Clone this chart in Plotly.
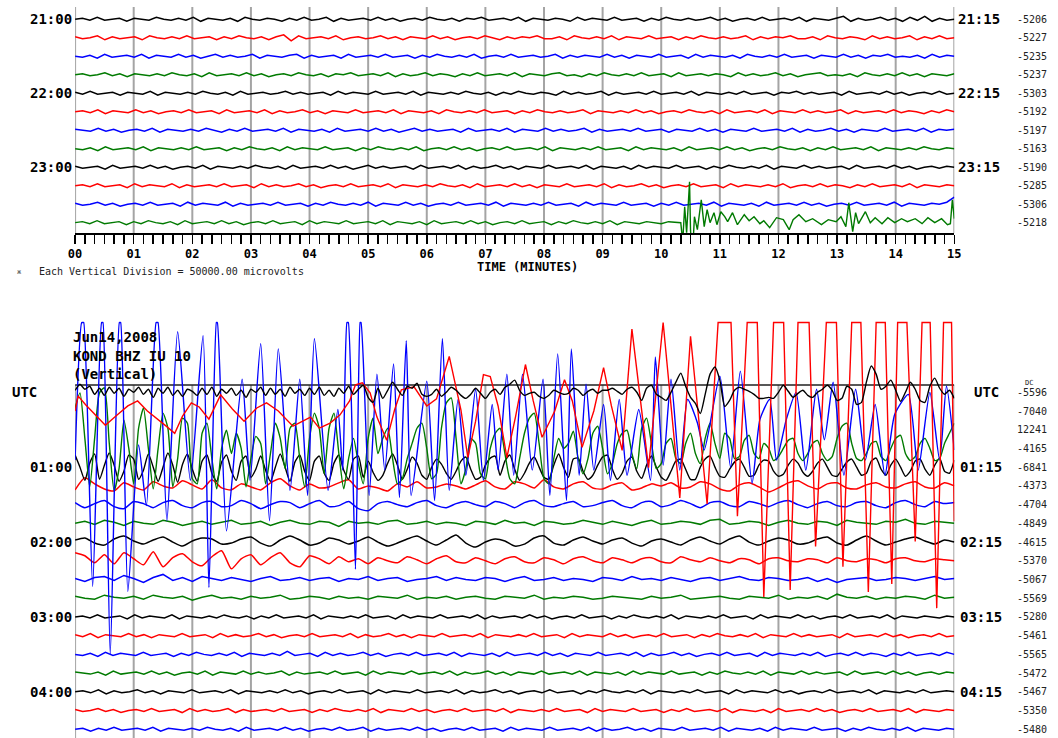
import numpy as np
import plotly.graph_objects as go

# ---------------- data ----------------
UNIT_UV = 2700.0        # one data count in microvolts
DIVISION_UV = 50000.0   # each vertical division (line spacing)
SPAN_S = 900            # each helicorder line = 15 minutes

MINUTE_LABELS = ["00", "01", "02", "03", "04", "05", "06", "07", "08", "09",
                 "10", "11", "12", "13", "14", "15"]
TOP_LEFT = {0: "21:00", 4: "22:00", 8: "23:00"}
TOP_RIGHT = {0: "21:15", 4: "22:15", 8: "23:15"}
TOP_DC = ["-5206", "-5227", "-5235", "-5237", "-5303", "-5192", "-5197", "-5163",
          "-5190", "-5285", "-5306", "-5218"]
BOT_LEFT = {0: "UTC", 4: "01:00", 8: "02:00", 12: "03:00", 16: "04:00"}
BOT_RIGHT = {0: "UTC", 4: "01:15", 8: "02:15", 12: "03:15", 16: "04:15"}
BOT_DC = ["-5596", "-7040", "12241", "-4165", "-6841", "-4373", "-4704", "-4849",
          "-4615", "-5370", "-5067", "-5569", "-5280", "-5461", "-5565", "-5472",
          "-5467", "-5350", "-5480"]
HEADER = ["Jun14,2008", "KOND BHZ IU 10", "(Vertical)"]

# top panel lines 21:00 .. 23:30 (uniformly sampled, counts)
T0 = [0,1,-1,2,-1,0,1,-2,1,0,-1,2,0,-1,1,-1,2,-2,1,0,-1,1,-2,2,0,-1,1,0,-2,1,-1,2,-1,0,2,-2,1,-1,0,1,-1,2,-1,1,-2,0,1,-1,2,0,-1,1,-2,1,0,2,-1,0,1,-1,2,-2,1,0,-1,1,0,-2,2,-1,1,0,-1,2,-1,0,1,-2,1,-1,2,0,-1,1,-1,0,2,-1,1,-2,0,1,-1,2,-1,0,1,-1,2,-2,1,0,-1,1,3,-2,1,-1,0,2,-1,1,-2,2,-1,3,-2,1,-1,0]
T1 = [1,-1,0,2,-2,1,-1,0,1,-2,2,0,-1,1,-1,2,-1,0,1,-2,1,-1,2,0,-1,1,-2,1,3,-3,2,-1,0,1,-1,2,-2,0,1,-1,0,2,-1,1,-2,1,0,-1,2,-1,1,-2,0,1,-1,2,0,-2,1,-1,1,0,2,-1,-1,1,-2,2,0,-1,1,-1,2,-2,1,0,-1,2,-1,0,1,-2,1,-1,2,0,-1,1,-1,0,2,-2,1,-1,1,0,2,-1,-1,1,-2,2,0,-1,1,0,-2,2,-1,1,-1,0,2,-2,1,-1,2,-1,0]
T2 = [0,-1,1,-2,2,-1,0,1,-1,2,-2,1,0,-1,2,-1,1,-2,0,2,-1,1,-1,0,2,-2,1,0,-1,1,2,-2,1,-1,0,1,-2,2,-1,0,1,-1,2,-1,0,1,-2,1,-1,2,0,-1,1,-1,2,-2,0,1,-1,2,-1,0,1,-1,0,2,-2,1,-1,1,0,-1,2,-1,1,-2,1,0,-1,2,-1,0,1,-2,2,-1,1,0,-1,1,-2,2,0,-1,1,-1,2,-1,0,1,-2,1,0,-1,2,-1,1,-2,1,0,2,-1,0,-1,1,-2,2,-1,1,0]
T3 = [0,1,-1,0,2,-1,1,-2,1,0,-1,1,-1,2,0,-1,1,-2,2,-1,0,1,-1,2,-1,1,-2,0,1,-1,2,0,-1,1,-2,1,0,2,-1,0,1,-1,2,-2,1,-1,0,2,-1,1,0,-2,1,-1,2,-1,0,1,-1,2,-2,1,0,-1,1,2,-1,0,-2,1,-1,2,0,-1,1,-1,2,-1,0,1,-2,2,-1,0,1,-1,1,0,-2,2,-1,1,-1,0,2,-1,1,-2,0,1,2,-1,0,-1,1,-2,2,0,-1,1,-1,2,-1,1,-2,1,0,-1,1]
T4 = [1,-1,2,-1,0,1,-2,1,0,-1,2,-2,1,0,-1,1,-1,2,0,-1,1,-2,2,-1,0,1,-1,0,2,-1,1,-1,0,1,-2,2,-1,1,0,-1,2,-1,0,1,-1,2,-2,1,0,-1,1,-1,2,0,-1,1,-2,1,-1,2,0,-1,1,0,-2,2,-1,1,-1,0,2,-2,1,-1,0,1,-1,2,-1,0,1,-1,2,-2,1,0,-1,1,-1,2,-1,0,1,-2,1,0,2,-1,1,-1,0,1,-2,2,-1,0,1,-1,2,-1,1,-2,0,1,-1,2,-1,0]
T5 = [0,1,-1,2,-2,1,0,-1,2,-1,1,-2,0,1,-1,2,-1,0,1,-2,2,-1,0,1,-1,2,-2,1,-1,0,2,-1,1,-2,1,0,-1,2,-1,0,1,-1,2,-2,1,0,-1,1,-2,2,0,-1,1,-1,2,-1,0,1,-2,1,-1,2,0,-1,1,-1,0,2,-2,1,0,-1,1,-1,2,-1,1,-2,0,1,-1,2,0,-1,1,-2,2,-1,0,1,-1,2,-2,1,0,-1,2,-1,1,-1,0,2,-2,1,-1,0,1,-1,2,-1,1,0,-2,1,-1,2,0]
T6 = [1,0,-1,2,-1,1,-2,0,1,-1,2,-2,1,0,-1,1,-1,2,0,-2,1,-1,2,-1,0,1,-1,2,-2,1,0,-1,1,-2,2,-1,0,1,-1,2,-1,1,-2,0,2,-1,1,-1,0,1,-2,2,-1,0,1,-1,2,-2,1,0,-1,2,-1,1,-1,0,2,-2,1,-1,0,1,-1,2,-1,0,1,-2,1,0,-1,2,-1,1,-2,1,0,-1,2,-1,0,1,-1,2,-2,1,-1,0,2,-1,1,-2,1,0,-1,2,-1,0,1,-1,2,-2,1,0,1]
T7 = [0,-1,1,-2,2,-1,0,1,-1,2,-2,1,0,-1,1,-1,2,-1,0,1,-2,1,-1,2,0,-1,1,-2,2,-1,1,0,-1,2,-1,0,1,-2,1,-1,2,0,-1,1,-1,2,-2,0,1,-1,2,-1,1,-2,0,1,-1,2,-1,0,1,-1,2,-2,1,0,-1,1,-1,2,-1,0,1,-2,2,-1,1,0,-1,1,-2,2,-1,0,1,-1,2,-1,1,-2,0,1,-1,2,0,-1,1,-2,1,-1,2,-1,0,1,-1,2,-2,1,0,-1,1,-1,2,0,-1,1,0]
T8 = [1,-1,0,1,-2,2,-1,0,1,-1,2,-1,1,-2,0,1,-1,2,-2,1,0,-1,1,-1,2,0,-1,1,-2,2,-1,0,1,-1,2,-1,1,-2,0,2,-1,1,-1,0,1,-2,2,-1,0,1,-1,2,-2,1,-1,0,2,-1,1,-2,1,0,-1,2,-1,0,1,-1,2,-2,1,0,-1,1,-2,2,-1,1,0,-1,2,-1,0,1,-2,1,-1,2,0,-1,1,-1,2,-2,1,0,-1,2,-1,1,-1,0,1,-2,2,-1,0,1,-1,2,-1,1,-2,0,1,-1,1,0]
T9 = [0,1,-1,2,-1,0,1,-2,2,-1,1,0,-1,2,-2,1,-1,0,1,-1,2,-1,0,1,-2,2,-1,1,-1,0,2,-1,1,-2,0,1,-1,2,-1,0,1,-1,2,-2,1,0,-1,1,-1,2,0,-1,1,-2,2,-1,0,1,-1,2,-1,1,-2,1,0,-1,2,-1,0,1,-1,2,-2,1,-1,0,2,-1,1,-2,0,1,-1,2,-1,0,1,-2,2,-1,1,0,-1,1,-1,2,-2,0,1,-1,2,-1,1,0,-2,1,-1,2,-1,0,1,-1,2,-2,1,0,-1,1,0]
T10 = [1,-1,0,2,-1,1,-2,0,1,-1,2,-1,0,1,-2,2,-1,1,0,-1,2,-2,1,-1,0,1,-1,2,-1,0,1,-2,1,-1,2,0,-1,1,-1,2,-2,1,0,-1,2,-1,1,-2,0,1,-1,2,-1,0,1,-1,2,-2,1,0,-1,1,-1,2,-1,0,1,-2,2,-1,1,0,-1,2,-1,0,1,-2,1,-1,2,-1,0,1,-1,2,-2,1,0,-1,1,-2,2,-1,0,1,-1,2,-1,1,-2,0,1,-1,2,-1,0,1,-1,2,-2,1,0,-1,1,0,2,7]
# 23:45 line: quiet part (0-615 s), then the earthquake (time s, counts)
T11_PRE = [0,1,-1,2,-1,0,1,-2,1,-1,2,0,-1,1,-2,2,-1,0,1,-1,2,-1,1,-2,0,1,-1,2,-1,0,1,-2,2,-1,1,0,-1,2,-1,0,1,-1,2,-2,1,0,-1,1,-2,2,-1,0,1,-1,2,-1,1,-2,0,1,-1,2,-1,0,1,-2,1,-1,2,0,-1,1,-1,2,-2,1,0,-1,1,0,-1,1,0]
EV_T = [620,622,624,626,629,630,632,634,637,641,644,647,650,654,657,661,665,668,673,678,
        685,690,695,701,705,711,718,725,731,735,741,748,755,764,771,779,784,789,792,796,
        799,802,809,814,819,826,832,839,846,852,860,867,873,880,887,893,896,898,900]
EV_V = [0,-19,16,-10,41,-8,-32,6,-7,23,-4,13,0,10,-2,11,6,1,10,-2,
        8,2,6,-1,2,-5,5,3,-7,3,8,1,4,-2,3,1,6,-4,20,-9,
        10,-1,11,0,5,-1,5,0,4,1,4,-1,5,0,4,-2,-1,23,4]

# bottom panel, 00:00 line (black), every 5 s
B0 = [2,8,3,6,-2,4,-3,5,-1,4,-4,3,0,
      5,-2,3,-5,4,-1,5,-3,2,-4,3,1,
      -3,4,-2,5,-4,3,-1,4,-3,2,-5,3,
      0,5,-3,4,-2,3,-4,5,-1,3,-3,4,
      -2,5,-3,2,-4,4,-1,6,-2,3,7,-5,
      -10,4,-6,2,10,3,-3,6,4,9,-2,-4,
      -2,3,-4,0,5,2,-3,-6,-2,4,-1,-6,
      0,3,-2,5,8,12,2,-3,-1,0,-4,-6,
      -3,2,0,-2,-1,4,2,-3,1,3,-1,2,
      2,4,1,-2,3,5,0,-8,4,7,-2,-5,
      -8,0,10,19,6,-5,-11,-21,-2,18,25,12,
      -14,-8,2,5,3,1,-2,-6,-6,-5,-6,0,
      7,1,-5,-1,2,-3,-5,0,3,7,2,-8,
      -6,6,3,-12,-10,10,26,18,3,6,12,2,
      -9,0,10,3,-8,-10,6,14,4,-2,2,-6]
# 00:15 line (red): turning points (time s, counts)
B1_T = [0,3,11,24,31,43,54,64,74,92,102,110,119,127,137,149,161,173,186,196,208,223,233,241,250,261,271,281,287,294,
        302,309,319,327,334,347,360,370,383,395,402,410,418,425,433,442,451,461,469,478,491,501,509,519,531,541,549,560,570,587,602,619,630,647,
        659,671,678,688,698,705,715,725,732,740,751,758,769,779,786,795,804,812,820,829,836,842,851,860,867,875,882,889,897,900]
B1_V = [0,15,6,-7,-14,-4,5,10,0,-14,-22,-5,8,4,-8,16,2,-10,3,8,0,-15,-10,-6,-17,-12,-4,10,26,28,
        18,-6,-29,1,21,24,5,12,54,1,-46,-10,36,34,5,-46,-5,46,10,-26,0,31,10,-36,0,43,5,-39,81,-56,88,-86,74,-92,
        100,100,-104,100,100,-184,100,100,-177,100,100,-134,100,100,-154,100,100,-179,100,100,-171,100,100,-129,100,100,-195,100,100,-109]
# 00:30 line (blue): turning points (time s, counts)
B2_T = [0,8,18,28,36,46,54,65,73,84,94,105,118,131,137,145,155,171,179,190,199,208,220,230,238,245,259,269,274,279,287,292,
        301,309,317,326,332,339,344,360,368,376,383,392,400,410,418,427,433,442,449,458,468,479,486,494,503,508,516,523,531,541,548,557,565,577,589,594,602,610,619,627,637,644,
        660,671,681,693,701,711,718,728,738,748,759,767,776,787,799,809,819,829,839,853,863,875,885,892,900]
B2_V = [-30,130,-155,130,-222,130,-160,-15,-75,125,-90,97,-50,93,-156,120,-100,50,-50,85,-90,80,-60,50,-65,90,-60,20,-40,130,-138,120,
        -65,55,-40,65,-67,88,-65,48,-70,90,-60,30,-45,40,-50,25,-40,55,-45,55,-40,50,-65,75,-70,80,-45,45,-40,25,-50,30,-45,20,-50,72,-35,50,-40,30,7,-20,
        53,-37,58,-53,10,30,-30,10,37,-40,40,-10,47,-45,40,-30,25,-45,15,35,-40,37,-30,43,-20]
# 00:45 line (green), every 5 s
B3 = [40,55,10,-38,10,55,60,5,-42,-20,28,0,-35,20,40,0,-40,0,35,20,-38,-10,30,25,-30,-35,15,25,-10,-40,
      0,18,-5,15,0,-38,-10,12,5,-35,-5,25,10,-20,20,25,-10,-38,10,35,20,-25,20,35,-5,-40,-10,10,-15,-35,
      10,30,-5,10,20,-10,-35,-30,-10,5,20,25,0,-30,-25,20,45,50,10,-35,-20,10,5,-25,-30,0,15,20,-5,-30,
      -35,-10,15,30,35,5,-30,-35,-10,10,0,5,17,-10,-25,-10,15,22,0,-25,-15,5,15,18,-5,-20,20,30,5,-20,
      -15,5,10,-10,-15,5,15,-5,-15,10,25,5,-10,15,10,-10,-8,8,13,-5,-10,5,0,-12,-8,0,8,10,-5,-12,
      -5,5,8,-5,-12,-8,10,22,25,5,-10,-12,-5,5,7,-8,-12,0,10,13,-5,-12,-8,5,10,0,-12,-10,5,15,25]
# 01:00 line (black), every 5 s
B4 = [12,0,-13,4,13,-12,2,14,2,-14,-4,12,8,-12,-3,13,0,-14,0,14,2,-15,3,13,-2,-14,6,12,-6,-14,
      5,12,-4,-13,6,11,-10,-2,11,-3,-14,0,13,0,-14,5,12,-4,-13,6,11,-6,-13,4,12,-3,-12,8,11,-10,
      6,-5,-13,-8,4,13,2,-12,-2,10,4,-8,-12,0,8,3,-6,-12,-4,6,10,-2,-12,-10,2,9,11,-8,6,12,
      -2,-13,-6,4,10,0,-10,-12,2,13,0,-10,8,9,-4,-12,-8,2,10,12,-2,-12,-6,6,10,-4,-11,2,11,0,
      -10,-13,-4,6,8,-2,-12,-12,0,8,11,0,-9,-10,-2,5,8,0,-9,-8,2,7,6,-4,-9,-7,2,8,4,-5,
      -9,-4,4,8,0,-8,-9,-2,5,8,0,-8,-6,6,9,-2,-8,2,8,0,-9,-4,6,8,-2,-8,2,9,-4,-6,7]
# 01:15 .. 02:45 lines, every 10 s
B5 = [-4,8,2,-3,-5,3,-1,-4,4,0,-2,5,1,-3,6,-2,-4,2,-1,-4,3,7,0,-4,2,-2,-1,3,6,-3,0,-2,-5,2,-1,4,-2,-1,2,0,-3,1,5,-1,-3,4,2,-2,6,-1,-3,2,4,-2,-3,1,3,-4,-2,2,0,3,-2,-1,4,2,-3,-5,1,3,-1,-6,-2,3,5,0,-3,2,3,-2,-3,1,3,-1,-2,2,4,-1,-2,3,0]
B6 = [2,-3,1,4,-2,-4,3,1,-3,2,4,-1,-3,2,3,-2,-1,4,1,-4,0,3,2,-3,1,4,-2,-1,3,-4,-6,1,3,0,-2,2,4,-1,-3,1,3,0,-2,3,1,-3,2,4,-1,-2,1,3,-2,-1,2,4,-1,-3,2,3,-2,0,4,1,-3,2,3,-1,-2,3,1,-2,2,4,0,-3,1,3,-1,-2,2,3,-1,-3,2,4,0,-2,3,1,2]
B7 = [0,2,-1,3,1,-2,2,0,-1,3,1,-2,0,2,-1,1,3,-1,0,2,-2,1,3,0,-1,2,1,-3,2,0,1,-1,2,3,-1,0,2,-1,1,0,-2,2,1,-1,3,0,1,-2,2,1,-1,0,3,1,-1,2,0,-2,1,3,-1,0,2,1,-1,3,4,-1,0,2,1,-2,1,3,0,-1,2,1,-2,3,1,0,-1,2,1,4,0,-1,2,1,0]
B8 = [2,4,-1,-3,3,6,1,-2,2,5,0,-4,1,4,3,-2,-1,3,5,-1,-4,2,6,2,-3,-1,4,2,-2,1,5,0,-4,-1,3,6,1,-3,2,7,-1,-5,0,3,1,-4,-2,4,6,-1,-3,2,5,1,-2,2,4,-1,-4,1,3,0,-3,2,5,1,-2,3,6,0,-3,1,4,2,-2,-1,3,5,-1,-3,2,6,1,-3,0,3,5,1,-2,2,0]
B9 = [8,5,-2,6,-3,8,2,-4,9,-6,3,7,-1,-5,4,10,-8,2,6,-4,3,8,-2,-6,5,2,-3,4,-1,2,-3,3,0,-2,4,1,-3,2,5,-1,-2,3,0,-3,2,4,-1,-2,3,1,-3,2,4,0,-2,3,1,-2,2,3,-1,-2,4,1,-1,3,0,-2,2,1,-3,2,3,0,-1,2,1,-2,3,0,-1,2,1,-2,2,3,0,-1,2,1,0]
B10 = [1,-2,2,3,-1,4,1,-3,2,5,-1,2,-2,3,1,-1,2,0,-2,1,3,-1,0,2,-1,1,2,-2,1,0,3,-1,1,2,-2,0,1,3,-1,2,0,-1,2,1,-2,1,3,-1,0,2,-1,1,0,-2,2,1,-1,3,0,1,-1,2,0,-2,1,2,-1,1,3,0,-1,2,1,-1,0,2,-2,1,-3,0,1,2,-1,0,2,1,-1,1,3,0,1]
B11 = [2,0,-1,3,1,0,2,-1,3,1,0,2,-2,1,3,0,1,-1,2,0,1,3,-1,0,2,1,-1,2,0,1,-1,2,1,0,3,-1,1,0,2,-1,1,2,0,-1,2,1,0,3,-1,1,0,2,1,-1,0,2,1,0,-1,2,0,1,3,-1,0,1,2,0,-1,2,1,0,3,-1,1,0,2,-1,4,1,0,2,-1,1,0,2,1,-1,3,0,1]
# 03:00 .. 04:30 lines, every 7.5 s
B12 = [0,1,-1,2,-1,0,1,-2,2,-1,1,0,-1,2,-2,1,0,-1,1,-1,2,0,-1,1,-2,1,-1,2,-1,0,1,-1,2,-2,1,0,-1,1,-1,2,-1,0,1,-2,2,-1,1,0,-1,2,-1,0,1,-1,2,-2,1,-1,0,1,-1,2,-1,1,-2,0,1,-1,2,-1,0,1,-2,1,-1,2,0,-1,1,-1,2,-2,1,0,-1,1,-1,2,-1,0,1,-2,2,-1,1,0,-1,2,-1,1,-2,0,1,-1,2,-1,0,1,-1,2,-2,1,0,-1,1,0,-1,1,0]
B13 = [1,-1,2,-2,1,0,-1,2,-1,1,-2,1,0,-1,2,-1,0,1,-2,2,-1,1,-1,0,2,-1,1,-2,0,1,-1,2,-1,0,1,-1,2,-2,1,-1,0,2,-1,1,-2,1,0,-1,2,-1,0,1,-1,2,-2,1,0,-1,1,-1,2,-1,0,1,-2,2,-1,1,0,-1,2,-1,1,-2,0,1,-1,2,-1,0,1,-2,1,-1,2,0,-1,1,-1,2,-2,1,0,-1,2,-1,1,-1,0,1,-2,2,-1,0,1,-1,2,-1,1,-2,0,1,-1,2,-1,0]
B14 = [0,-1,1,-2,2,-1,1,0,-1,2,-1,0,1,-2,1,-1,2,0,-1,1,-1,2,-2,1,0,-1,1,-1,3,-1,0,1,-2,2,-1,1,-1,0,2,-1,1,-2,0,1,-1,2,-1,0,1,-1,2,-2,1,0,-1,1,-2,2,-1,0,1,-1,2,-1,1,-2,1,0,-1,2,-1,0,1,-1,2,-2,1,-1,0,2,-1,1,-2,0,1,-1,2,-1,0,1,-2,2,-1,1,0,-1,1,-1,2,-2,0,1,-1,2,-1,1,0,-2,1,-1,2,-1,0,1,-1,2,0]
B15 = [1,0,-1,1,-2,2,-1,0,1,-1,2,-1,1,-2,0,1,-1,2,-2,1,0,-1,2,-1,1,-1,0,2,-2,1,-1,0,1,-1,2,-1,0,1,-2,2,-1,1,0,-1,2,-1,0,1,-1,2,-2,1,-1,0,2,-1,1,-2,1,0,-1,2,-1,0,1,-1,2,-2,1,0,-1,1,-2,2,-1,1,0,-1,2,-1,0,1,-2,1,-1,2,0,-1,1,-1,2,-2,1,0,-1,2,-1,1,-1,0,1,-2,2,-1,0,1,-1,2,-1,1,-2,0,1,-1,1,0]
B16 = [0,1,-1,2,-2,1,-1,0,2,-1,1,-2,1,0,-1,2,-1,0,1,-1,2,-2,1,0,-1,1,-1,2,-1,1,-2,0,1,-1,2,-1,0,1,-2,2,-1,1,0,-1,2,-1,0,1,-1,2,-2,1,-1,0,2,-1,1,-2,0,1,-1,2,-1,0,1,-2,1,-1,2,0,-1,1,-1,2,-2,1,0,-1,1,-1,2,-1,0,1,-2,2,-1,1,0,-1,2,-1,1,-2,0,1,-1,2,-1,0,1,-1,2,-2,1,0,-1,1,-1,2,-1,0,1,0]
B17 = [1,-1,0,2,-1,1,-2,0,1,-1,2,-1,0,1,-2,2,-1,1,-1,0,2,-2,1,-1,0,1,-1,2,-1,0,1,-2,1,-1,2,0,-1,1,-1,2,-2,1,0,-1,2,-1,1,-2,0,1,-1,2,-1,0,1,-1,2,-2,1,0,-1,1,-1,2,-1,0,1,-2,2,-1,1,0,-1,2,-1,0,1,-2,1,-1,2,-1,0,1,-1,2,-2,1,0,-1,1,-2,2,-1,0,1,-1,2,-1,1,-2,0,1,-1,2,-1,0,1,-1,2,-2,1,0,-1,1,0]
B18 = [0,1,-2,1,-1,2,-1,0,1,-1,2,-2,1,0,-1,1,-1,2,0,-1,1,-2,2,-1,0,1,-1,2,-1,1,-2,0,1,-1,2,-1,0,2,-2,1,-1,0,1,-1,2,-1,1,-2,0,1,-1,2,-1,0,1,-2,2,-1,1,0,-1,2,-1,0,1,-1,2,-2,1,-1,0,2,-1,1,-2,1,0,-1,2,-1,0,1,-1,2,-2,1,0,-1,1,-2,2,-1,1,0,-1,2,-1,0,1,-2,1,-1,2,0,-1,1,-1,2,-2,1,0,-1,1,0]

# ---------------- layout constants ----------------
W, H = 1058, 738
COLORS = ["#000000", "#ff0000", "#0000ff", "#007a00"]
GRID = "#a4a4a4"
MONO = "DejaVu Sans Mono"
XDOM = [69 / W, 960 / W]
TOP_DOM = [1 - 233 / H, 1.0]
TOP_RANGE = [11.558, -1.044]
BOT_DOM = [0.0, 1 - 320 / H]
BOT_RANGE = [18.467, -3.862]
CLIP_ROW = -3.729


def uniform_t(vals):
    return np.linspace(0, SPAN_S, len(vals))


def to_rows(row, vals):
    return row - np.asarray(vals, dtype=float) * UNIT_UV / DIVISION_UV


def clip_top(t, y, lim):
    tt, yy = [t[0]], [max(y[0], lim)]
    for i in range(1, len(t)):
        a, b = y[i - 1], y[i]
        if (a < lim) != (b < lim):
            f = (lim - a) / (b - a)
            tt.append(t[i - 1] + f * (t[i] - t[i - 1]))
            yy.append(lim)
        tt.append(t[i])
        yy.append(max(b, lim))
    return tt, yy


fig = go.Figure()

# ---- top panel ----
top_lines = [T0, T1, T2, T3, T4, T5, T6, T7, T8, T9, T10]
for r, vals in enumerate(top_lines):
    fig.add_trace(go.Scatter(x=uniform_t(vals), y=to_rows(r, vals), mode="lines",
                             line=dict(color=COLORS[r % 4], width=1.5),
                             xaxis="x", yaxis="y", hoverinfo="skip", showlegend=False))
t_pre = np.linspace(0, 615, len(T11_PRE))
t11 = np.concatenate([t_pre, np.array(EV_T, float)])
v11 = list(T11_PRE) + list(EV_V)
fig.add_trace(go.Scatter(x=t11, y=to_rows(11, v11), mode="lines",
                         line=dict(color=COLORS[3], width=1.4),
                         xaxis="x", yaxis="y", hoverinfo="skip", showlegend=False))

# ---- bottom panel ----
bottom = {
    0: (uniform_t(B0), B0, "spline"),
    1: (np.array(B1_T, float), B1_V, "linear"),
    2: (np.array(B2_T, float), B2_V, "spline"),
    3: (uniform_t(B3), B3, "spline"),
    4: (uniform_t(B4), B4, "spline"),
    5: (uniform_t(B5), B5, "spline"),
    6: (uniform_t(B6), B6, "spline"),
    7: (uniform_t(B7), B7, "linear"),
    8: (uniform_t(B8), B8, "spline"),
    9: (uniform_t(B9), B9, "spline"),
    10: (uniform_t(B10), B10, "linear"),
    11: (uniform_t(B11), B11, "linear"),
    12: (uniform_t(B12), B12, "linear"),
    13: (uniform_t(B13), B13, "linear"),
    14: (uniform_t(B14), B14, "linear"),
    15: (uniform_t(B15), B15, "linear"),
    16: (uniform_t(B16), B16, "linear"),
    17: (uniform_t(B17), B17, "linear"),
    18: (uniform_t(B18), B18, "linear"),
}
for r in sorted(bottom.keys(), reverse=True):
    t, vals, shape = bottom[r]
    y = to_rows(r, vals)
    tt, yy = clip_top(list(t), list(y), CLIP_ROW)
    line = dict(color=COLORS[r % 4], width=1.4 if r < 5 else 1.5, shape=shape)
    if shape == "spline":
        line["smoothing"] = 0.6
    fig.add_trace(go.Scatter(x=tt, y=yy, mode="lines", line=line,
                             xaxis="x2", yaxis="y2", hoverinfo="skip", showlegend=False))

# ---- grid / frame shapes ----
shapes = []
for m in range(16):
    shapes.append(dict(type="line", xref="x", yref="paper", x0=60 * m, x1=60 * m,
                       y0=TOP_DOM[0], y1=1 - 7 / H, line=dict(color=GRID, width=2), layer="below"))
    shapes.append(dict(type="line", xref="x2", yref="paper", x0=60 * m, x1=60 * m,
                       y0=0, y1=1 - 385 / H, line=dict(color=GRID, width=2), layer="below"))
shapes.append(dict(type="line", xref="x2", yref="paper", x0=0, x1=SPAN_S,
                   y0=1 - 385 / H, y1=1 - 385 / H, line=dict(color="#202020", width=1.5), layer="below"))

# ---- annotations ----
ann = []


def label(text, x, y, yref="paper", xanchor="left", size=14, bold=True, color="black"):
    ann.append(dict(text=text, x=x, y=y, xref="paper", yref=yref, xanchor=xanchor,
                    yanchor="middle", showarrow=False, borderpad=0,
                    font=dict(family=MONO, size=size, color=color,
                              weight="bold" if bold else "normal")))


for r, s in TOP_LEFT.items():
    label(s, 67 / W, r, yref="y", xanchor="right")
for r, s in TOP_RIGHT.items():
    label(s, 963 / W, r, yref="y")
for r, s in enumerate(TOP_DC):
    label(s, 1055 / W, r, yref="y", xanchor="right", size=10, bold=False, color="#222222")
for r, s in BOT_LEFT.items():
    if s == "UTC":
        label(s, 4 / W, r, yref="y2")
    else:
        label(s, 67 / W, r, yref="y2", xanchor="right")
for r, s in BOT_RIGHT.items():
    label(s, (979 if s == "UTC" else 965) / W, r, yref="y2")
for r, s in enumerate(BOT_DC):
    label(s, 1055 / W, r, yref="y2", xanchor="right", size=10, bold=False, color="#222222")
label("DC", 1031 / W, 1 - 383 / H, size=7, bold=False, color="#222222")
for i, s in enumerate(HEADER):
    label(s, 66 / W, 1 - (337 + 18.5 * i) / H, size=14)
label("TIME (MINUTES)", 527 / W, 1 - 267 / H, xanchor="center", size=12)
label("Each Vertical Division = 50000.00 microvolts", 31 / W, 1 - 271 / H, size=10, bold=False,
      color="#222222")
label("ж", 9 / W, 1 - 272 / H, size=7, bold=False, color="#555555")

tickvals = list(range(0, SPAN_S + 1, 10))
ticktext = [MINUTE_LABELS[t // 60] if t % 60 == 0 else "" for t in tickvals]

fig.update_layout(
    width=W, height=H, autosize=False,
    margin=dict(l=0, r=0, t=0, b=0),
    paper_bgcolor="white", plot_bgcolor="white",
    showlegend=False, hovermode=False,
    shapes=shapes, annotations=ann,
    xaxis=dict(domain=XDOM, range=[0, SPAN_S], anchor="y", showgrid=False, zeroline=False,
               showline=True, linecolor="black", linewidth=2,
               ticks="outside", ticklen=9, tickwidth=1.5, tickcolor="black",
               tickvals=tickvals, ticktext=ticktext,
               tickfont=dict(family=MONO, size=12, color="black", weight="bold"),
               fixedrange=True),
    yaxis=dict(domain=TOP_DOM, range=TOP_RANGE, visible=False, fixedrange=True),
    xaxis2=dict(domain=XDOM, range=[0, SPAN_S], anchor="y2", visible=False, fixedrange=True),
    yaxis2=dict(domain=BOT_DOM, range=BOT_RANGE, visible=False, fixedrange=True),
)

fig.write_html("out.html", config={"staticPlot": True},
               post_script="document.body.style.margin='0px';"
                           "document.documentElement.style.overflow='hidden';")
